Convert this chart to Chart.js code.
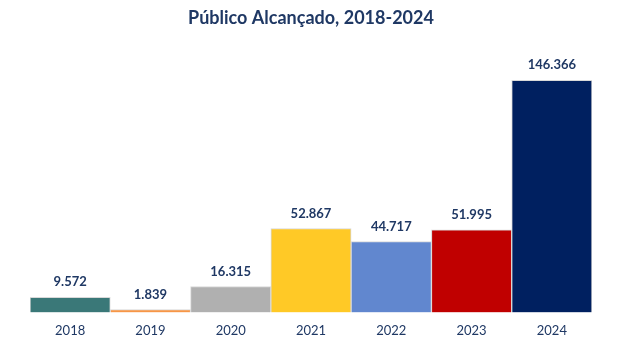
<!DOCTYPE html>
<html>
<head>
<meta charset="utf-8">
<script src="https://cdn.jsdelivr.net/npm/chart.js@4/dist/chart.umd.min.js"></script>
<style>
html,body{margin:0;padding:0;background:#fff;}
#wrap{width:620px;height:345px;position:relative;}
</style>
</head>
<body>
<div id="wrap"><canvas id="c" width="620" height="345"></canvas></div>
<script>
const categories = ["2018","2019","2020","2021","2022","2023","2024"];
const publicoAlcancado = [9572, 1839, 16315, 52867, 44717, 51995, 146366];
const valueLabels = ["9.572","1.839","16.315","52.867","44.717","51.995","146.366"];
const barColors = ["#3A7878","#F79646","#B0B0B0","#FFC926","#6187CF","#C00000","#002060"];

const navy = "#1F3864";
const FONT = "Lato, 'Open Sans', sans-serif";

const labelPlugin = {
  id: "valueLabels",
  afterDatasetsDraw(chart) {
    const ctx = chart.ctx;
    const meta = chart.getDatasetMeta(0);
    ctx.save();
    ctx.fillStyle = navy;
    ctx.font = "bold 13px " + FONT;
    ctx.textAlign = "center";
    ctx.textBaseline = "middle";
    meta.data.forEach((bar, i) => {
      ctx.fillText(valueLabels[i], bar.x, bar.y - 15);
    });
    ctx.restore();
  }
};

new Chart(document.getElementById("c"), {
  type: "bar",
  data: {
    labels: categories,
    datasets: [{
      data: publicoAlcancado,
      backgroundColor: barColors,
      borderColor: "#D9D9D9",
      borderWidth: 1,
      barPercentage: 1,
      categoryPercentage: 1
    }]
  },
  options: {
    responsive: false,
    animation: false,
    devicePixelRatio: 1,
    layout: { padding: { left: 30, right: 28, bottom: -5 } },
    plugins: {
      legend: { display: false },
      tooltip: { enabled: false },
      title: {
        display: true,
        text: "Público Alcançado, 2018-2024",
        color: navy,
        font: { family: FONT, size: 18, weight: "bold" },
        padding: { top: 7, bottom: 30 }
      }
    },
    scales: {
      x: {
        grid: { display: false, drawTicks: false },
        border: { display: false },
        ticks: { color: navy, font: { family: FONT, size: 13 }, padding: 11 }
      },
      y: {
        display: false,
        min: 0,
        max: 160000
      }
    }
  },
  plugins: [labelPlugin]
});
</script>
</body>
</html>
